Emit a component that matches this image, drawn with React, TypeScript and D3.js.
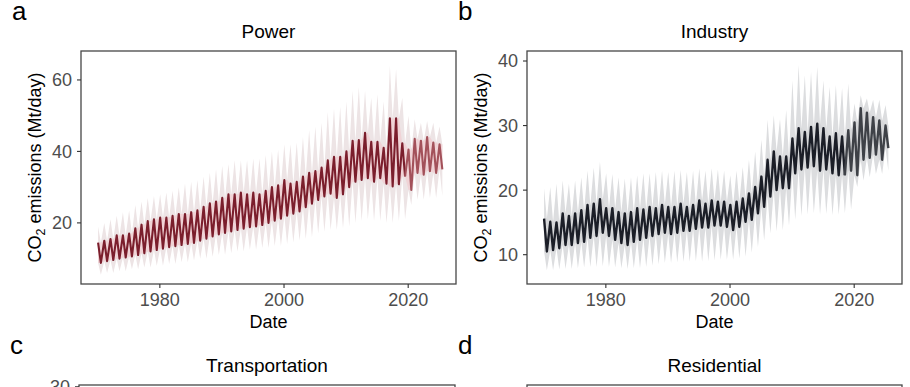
import React from 'react';
import * as d3 from 'd3';

// one entry per year, 1970..2025
const years = d3.range(1970, 2026);

// Power: annual peak / trough of the central estimate, and the spread of the band
const powerPeak = [
  14.5, 15, 15.5, 16.5, 16.5, 17, 18.5, 19.5, 20.5, 21,
  21.5, 21.5, 22, 22.5, 22.5, 23, 23.5, 24.5, 25.5, 26,
  27, 28, 28, 28.5, 28, 28.5, 28, 29, 30, 30.5,
  32, 31, 31.5, 33, 34, 34.5, 35.5, 37.5, 38.5, 38.5,
  40, 43, 43.2, 45.2, 42.7, 42.7, 41, 49.3, 49.3, 42.3,
  40.5, 43.5, 43, 44, 42.5, 42,
];
const powerTrough = [
  8.8, 9.3, 9.6, 10, 10.3, 10.6, 11, 11.5, 12, 12.4,
  12.8, 13.2, 13.5, 13.8, 14.1, 14.4, 15, 15.6, 16.2, 16.8,
  17.2, 17.6, 18, 18.4, 18.8, 19, 19.4, 20, 20.6, 21.2,
  22, 22.6, 23.2, 24.4, 25.4, 26.4, 27.4, 28.2, 27, 28,
  30, 31.5, 32, 32.5, 31.5, 32.5, 31, 30.2, 30.8, 33,
  29.2, 34, 33.5, 34.5, 34, 35,
];
const powerBandHi = [
  19, 20, 21, 22, 23, 23.5, 25, 26, 27, 27.5,
  28, 28.5, 29, 30, 31, 31.5, 32, 33, 34, 35,
  36, 36.5, 37.5, 37.5, 37.5, 38, 38, 39, 40, 40.5,
  42, 42, 42.5, 44, 46, 47, 48, 51, 52, 52.5,
  54, 57, 58, 57, 55, 56, 54, 64, 63, 55,
  50, 49, 48, 48.5, 48, 47,
];
const powerBandLo = [
  5.5, 6, 6, 6.5, 6.5, 7, 7, 7.5, 7.5, 8,
  8, 8.5, 8.5, 9, 9, 9.5, 10, 10, 10.5, 11,
  11, 11.5, 12, 12, 12.5, 12.5, 13, 13, 13.5, 13.5,
  14, 14.5, 15, 15.5, 16, 17, 17.5, 18, 18, 18.5,
  19, 20, 20.5, 21, 20.5, 20.5, 20, 20, 20.5, 21,
  25, 26.5, 26.5, 27, 27, 27.5,
];

// Industry
const industryPeak = [
  15.6, 15.1, 15, 16.4, 16, 16.4, 16.9, 17.7, 17.9, 18.6,
  17.2, 17.2, 16.6, 16.4, 16.6, 17.2, 17, 17.4, 17.2, 17.7,
  17.4, 17.4, 17.9, 17.4, 17.7, 18.4, 17.9, 18.4, 18.2, 18.2,
  17.7, 18.2, 18.7, 19.5, 20.5, 22.1, 24.7, 26, 25.2, 25.2,
  28, 29.6, 29, 29.8, 30.3, 29.6, 28.3, 28.8, 28.3, 29.3,
  30.5, 32.7, 32, 31.3, 30.8, 30,
];
const industryTrough = [
  10.5, 10.7, 11, 11.5, 11.5, 11.8, 12, 12.6, 12.9, 13.4,
  12.9, 12.3, 11.8, 11.5, 12, 12.3, 12.6, 12.9, 13.2, 13.4,
  13.2, 13.4, 13.7, 13.7, 14, 14.2, 14.2, 14.5, 14.5, 14.3,
  13.8, 14.3, 15.1, 15.4, 16.4, 17.4, 19, 20, 20.3, 20.3,
  22.6, 23.2, 23.5, 23.7, 23, 23.2, 22.6, 22.3, 22.3, 23,
  22.3, 24.7, 25, 25.5, 24.7, 26.5,
];
const industryBandHi = [
  20.3, 20.5, 21, 21.5, 21, 21.5, 22, 23, 23.5, 24.4,
  22.6, 22.5, 22, 21.8, 22, 22.3, 22.6, 22.6, 22.8, 23,
  22.8, 23, 23.1, 22.8, 23, 23.4, 23, 23.4, 23.2, 23,
  22.3, 23, 23.6, 24.7, 26, 27.8, 30.9, 31.6, 31, 32.4,
  37, 39.4, 37.8, 38.3, 39.1, 37, 36, 36.3, 35.8, 36.5,
  33.4, 34.7, 34.2, 34, 34, 33.2,
];
const industryBandLo = [
  7.6, 7.6, 7.7, 7.8, 7.8, 7.9, 8, 8.1, 8.1, 8.2,
  8.1, 8, 7.9, 7.8, 7.9, 7.9, 8.1, 8.3, 8.5, 8.7,
  8.7, 8.8, 8.9, 8.9, 9, 8.9, 9, 9.1, 9.2, 9.2,
  9.2, 9.4, 9.7, 10.3, 11.2, 12.2, 13.3, 13.6, 13.8, 14.5,
  15.4, 16, 16.2, 16.4, 16.2, 16.3, 16.1, 16.2, 16.4, 17,
  20.5, 21.5, 22, 22.5, 22.5, 23,
];

const xTicks = [1980, 2000, 2020];
const powerTicks = [20, 40, 60];
const industryTicks = [10, 20, 30, 40];
const transportTicks = [30];

const FONT = 'Arial, "Liberation Sans", Helvetica, sans-serif';

type Series = {
  peak: number[];
  trough: number[];
  hi: number[];
  lo: number[];
  color: string;
  recent: string;
  band: string;
  core: string;
  split: number;
  width: number;
};

type PanelProps = {
  left: number;
  right: number;
  top: number;
  bottom: number;
  yDomain: [number, number];
  yTicks: number[];
  title: string;
  letter: string;
  series?: Series;
  id: string;
};

function Panel({ left, right, top, bottom, yDomain, yTicks, title, letter, series, id }: PanelProps) {
  const x = d3.scaleLinear().domain([1967.3, 2027.7]).range([left, right]);
  const y = d3.scaleLinear().domain(yDomain).range([bottom, top]);

  let band: string | null = null;
  let core: string | null = null;
  let line1: string | null = null;
  let line2: string | null = null;
  if (series) {
    // peak near the start of each year, trough around mid-year
    const pts = years.flatMap((yr, i) => [
      { t: yr + 0.05, v: series.peak[i], y0: series.trough[i], y1: series.hi[i], c0: series.trough[i], c1: series.peak[i] },
      { t: yr + 0.5, v: series.trough[i], y0: series.lo[i], y1: series.peak[i], c0: series.trough[i], c1: series.peak[i] },
    ]);
    band = d3.area<any>()
      .x(d => x(d.t))
      .y0(d => y(d.y0))
      .y1(d => y(d.y1))(pts);
    core = d3.area<any>()
      .x(d => x(d.t))
      .y0(d => y(d.c0))
      .y1(d => y(d.c1))(pts);
    const ln = d3.line<any>().x(d => x(d.t)).y(d => y(d.v));
    const seg1 = pts.filter(p => p.t <= series.split);
    const lastT = seg1[seg1.length - 1].t;
    const seg2 = pts.filter(p => p.t >= lastT);
    line1 = ln(seg1);
    line2 = ln(seg2);
  }

  const cx = (left + right) / 2;
  const cy = (top + bottom) / 2;

  return (
    <g fontFamily={FONT}>
      <text x={left - 69} y={top - 31} fontSize={26} fill="#000">{letter}</text>
      <text x={cx} y={top - 13.5} fontSize={19} textAnchor="middle" fill="#000">{title}</text>

      <clipPath id={id}>
        <rect x={left} y={top} width={right - left} height={bottom - top} />
      </clipPath>
      {series && (
        <g clipPath={`url(#${id})`}>
          <path d={band!} fill={series.band} stroke="none" />
          <path d={core!} fill={series.core} stroke="none" />
          <path d={line1!} fill="none" stroke={series.color} strokeWidth={series.width} strokeLinejoin="round" />
          <path d={line2!} fill="none" stroke={series.recent} strokeWidth={series.width} strokeLinejoin="round" />
        </g>
      )}

      <rect x={left} y={top} width={right - left} height={bottom - top} fill="none" stroke="#474747" strokeWidth={1.3} />

      {yTicks.map(t => (
        <g key={t}>
          <line x1={left - 4} x2={left} y1={y(t)} y2={y(t)} stroke="#333" strokeWidth={1.1} />
          <text x={left - 9} y={y(t)} dy="0.36em" fontSize={18} textAnchor="end" fill="#4d4d4d">{t}</text>
        </g>
      ))}

      {series && xTicks.map(t => (
        <g key={t}>
          <line x1={x(t)} x2={x(t)} y1={bottom} y2={bottom + 4} stroke="#333" strokeWidth={1.1} />
          <text x={x(t)} y={bottom + 22} fontSize={18} textAnchor="middle" fill="#4d4d4d">{t}</text>
        </g>
      ))}

      {series && (
        <>
          <text x={cx} y={bottom + 44} fontSize={18} textAnchor="middle" fill="#000">Date</text>
          <text transform={`translate(${left - 40},${cy}) rotate(-90)`} fontSize={18} textAnchor="middle" fill="#000">
            CO<tspan fontSize={12.5} dy={4}>2</tspan><tspan dy={-4}> emissions (Mt/day)</tspan>
          </text>
        </>
      )}
    </g>
  );
}

export default function App() {
  return (
    <svg
      width={910}
      height={387}
      viewBox="0 0 910 387"
      style={{ position: 'absolute', left: 0, top: 0, background: '#fff' }}
    >
      <rect x={0} y={0} width={910} height={387} fill="#fff" />
      <Panel
        id="clip-a"
        left={81} right={456} top={51} bottom={284}
        yDomain={[2.9, 68.1]} yTicks={powerTicks}
        title="Power" letter="a"
        series={{
          peak: powerPeak, trough: powerTrough, hi: powerBandHi, lo: powerBandLo,
          color: '#7b1e2c', recent: '#a3515a', band: '#ede4e5', core: '#f0d3d6', split: 2019.6, width: 2.1,
        }}
      />
      <Panel
        id="clip-b"
        left={527} right={902} top={51} bottom={284}
        yDomain={[5.46, 41.55]} yTicks={industryTicks}
        title="Industry" letter="b"
        series={{
          peak: industryPeak, trough: industryTrough, hi: industryBandHi, lo: industryBandLo,
          color: '#1b1e27', recent: '#3e4147', band: '#dcdddf', core: '#d6d7d9', split: 2018.6, width: 2.4,
        }}
      />
      <Panel
        id="clip-c"
        left={79} right={455} top={385} bottom={618}
        yDomain={[4, 30.2]} yTicks={transportTicks}
        title="Transportation" letter="c"
      />
      <Panel
        id="clip-d"
        left={527} right={902} top={385} bottom={618}
        yDomain={[0, 10]} yTicks={[]}
        title="Residential" letter="d"
      />
    </svg>
  );
}
